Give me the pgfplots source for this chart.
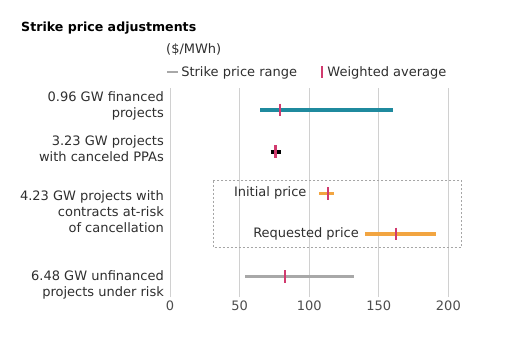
\documentclass[border=0pt]{standalone}
\usepackage{fontspec}
\setmainfont{DejaVu Sans}
\usepackage{pgfplots}
\pgfplotsset{compat=1.18}
\definecolor{tealbar}{HTML}{1F8A9E}
\definecolor{avgpink}{HTML}{D13A6E}
\definecolor{orangebar}{HTML}{F2A541}
\definecolor{graybar}{HTML}{A8A8A8}
\definecolor{txt}{HTML}{2E2E2E}
\definecolor{gridc}{HTML}{D0D0D0}
\begin{document}
\begin{tikzpicture}
\useasboundingbox (0pt,0pt) rectangle (507pt,-351pt);
\node[anchor=west,inner sep=0pt,font=\bfseries\fontsize{12.6}{15}\selectfont] at (21pt,-28pt) {Strike price adjustments};
\node[anchor=west,inner sep=0pt,text=txt,font=\fontsize{13}{16}\selectfont] at (166pt,-50pt) {(\$/MWh)};
\begin{axis}[
  at={(170pt,-297pt)}, anchor=south west,
  scale only axis, width=292.3pt, height=209pt,
  xmin=0, xmax=210, ymin=-297, ymax=-88,
  clip=false,
  axis line style={draw=none},
  ytick=\empty,
  xtick={0,50,100,150,200},
  major tick length=0pt,
  xmajorgrids, grid style={gridc, line width=0.9pt},
  xticklabel style={text=txt!85, font=\fontsize{13}{16}\selectfont, yshift=0pt},
  /pgf/number format/assume math mode=true,
  legend columns=2,
  legend style={at={(-0.014,1.0766)}, anchor=west, draw=none, fill=none,
    font=\fontsize{13}{16}\selectfont, text=txt, inner sep=0pt,
    /tikz/every even column/.append style={column sep=22pt}},
]
\addlegendimage{legend image code/.code={\draw[graybar, line width=2.2pt] (-1pt,0pt) -- (10pt,0pt);}}
\addlegendentry{Strike price range}
\addlegendimage{legend image code/.code={\draw[avgpink, line width=2.4pt] (4pt,-6pt) -- (4pt,6pt); \path (7pt,0pt);}}
\addlegendentry{Weighted average}

% ranges
\addplot[tealbar, line width=3.2pt, forget plot] coordinates {(65,-110) (160,-110)};
\addplot[black, line width=3.6pt, forget plot] coordinates {(72.3,-151.7) (80,-151.7)};
\addplot[orangebar, line width=3.2pt, forget plot] coordinates {(107.3,-193.3) (117.8,-193.3)};
\addplot[orangebar, line width=3.2pt, forget plot] coordinates {(140,-234) (191,-234)};
\addplot[graybar, line width=3.2pt, forget plot] coordinates {(54,-276.7) (132,-276.7)};
% weighted averages
\addplot[only marks, mark=|, mark size=6.3pt, line width=2.3pt, avgpink, forget plot]
  coordinates {(78.8,-110) (75.7,-151.7) (113.7,-193.3) (162.4,-234) (82.4,-276.7)};

\draw[gray!70, line width=0.6pt, dash pattern=on 2pt off 2pt] (axis cs:31,-180.7) rectangle (axis cs:209.5,-247.3);

\node[anchor=east, inner sep=0pt, text=txt, font=\fontsize{13}{16}\selectfont] at (axis cs:98.2,-193.3) {Initial price};
\node[anchor=east, inner sep=0pt, text=txt, font=\fontsize{13}{16}\selectfont] at (axis cs:135.8,-234) {Requested price};

\node[anchor=east, align=right, inner sep=0pt, text=txt, font=\fontsize{13}{16}\selectfont] at (axis cs:-4.3,-106.3) {0.96 GW financed\\projects};
\node[anchor=east, align=right, inner sep=0pt, text=txt, font=\fontsize{13}{16}\selectfont] at (axis cs:-4.3,-148.7) {3.23 GW projects\\with canceled PPAs};
\node[anchor=east, align=right, inner sep=0pt, text=txt, font=\fontsize{13}{16}\selectfont] at (axis cs:-4.3,-211.3) {4.23 GW projects with\\contracts at-risk\\of cancellation};
\node[anchor=east, align=right, inner sep=0pt, text=txt, font=\fontsize{13}{16}\selectfont] at (axis cs:-4.3,-284.5) {6.48 GW unfinanced\\projects under risk};
\end{axis}
\end{tikzpicture}
\end{document}
